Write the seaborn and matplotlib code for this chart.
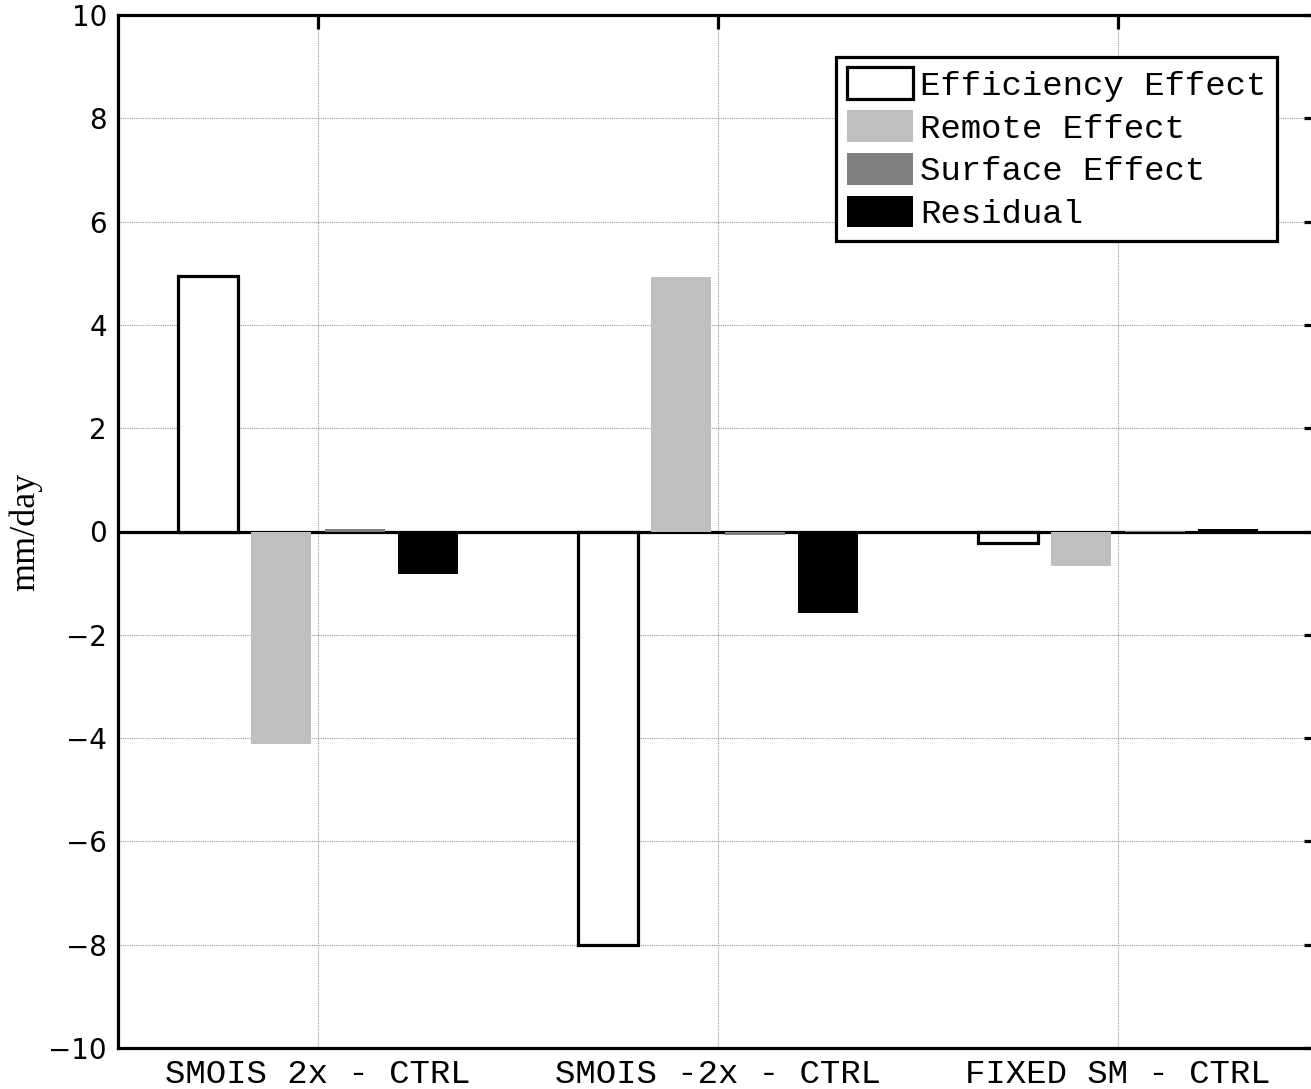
import matplotlib
matplotlib.use("Agg")
import matplotlib.pyplot as plt
from matplotlib.patches import Patch
import seaborn as sns
import pandas as pd

# Precipitation change decomposition (mm/day) for each experiment
cases = ["SMOIS 2x - CTRL", "SMOIS -2x - CTRL", "FIXED SM - CTRL"]
components = ["Efficiency Effect", "Remote Effect", "Surface Effect", "Residual"]
efficiency = [4.95, -8.0, -0.22]
remote = [-4.12, 4.93, -0.66]
surface = [0.05, -0.06, 0.01]
residual = [-0.82, -1.57, 0.04]
yticks = [-10, -8, -6, -4, -2, 0, 2, 4, 6, 8, 10]

colors = ["#ffffff", "#bfbfbf", "#808080", "#000000"]

series = [efficiency, remote, surface, residual]
df = pd.DataFrame(
    [(c, comp, v) for comp, vals in zip(components, series) for c, v in zip(cases, vals)],
    columns=["case", "component", "value"],
)

sns.set_style("white")
plt.rcParams["text.color"] = "black"
plt.rcParams["xtick.color"] = "black"
plt.rcParams["ytick.color"] = "black"
plt.rcParams["axes.labelcolor"] = "black"

fig = plt.figure(figsize=(13.11, 10.89), dpi=100)
ax = fig.add_axes([118 / 1311, 1 - 1048 / 1089, 1200 / 1311, 1033 / 1089])

sns.barplot(
    data=df, x="case", y="value", hue="component", order=cases, hue_order=components,
    palette=colors, width=0.733, gap=0.18, errorbar=None, linewidth=0,
    legend=False, ax=ax, zorder=3,
)

# outlined white bars for the efficiency term
for bar in ax.containers[0]:
    bar.set_edgecolor("black")
    bar.set_linewidth(2.3)

ax.axhline(0, color="black", lw=2.3, zorder=2)

ax.set_xlim(-0.5, 2.5)
ax.set_ylim(-10, 10)
ax.set_yticks(yticks)
ax.set_yticklabels([("\u2212" + str(-t)) if t < 0 else str(t) for t in yticks],
                   fontsize=20, family="DejaVu Sans", color="black")
ax.set_xticks(range(len(cases)))
ax.set_xticklabels(cases, fontsize=24.5, family="Liberation Mono", color="black")
ax.set_xlabel("")
ax.set_ylabel("mm/day", fontsize=26, family="Liberation Serif", color="black")
ax.yaxis.set_label_coords(-76 / 1200, 0.5)

ax.grid(True, color="#999999", ls=(0, (1, 1)), lw=0.8, zorder=0)
ax.set_axisbelow(True)
for s in ax.spines.values():
    s.set_linewidth(2.3)
    s.set_color("black")
ax.tick_params(direction="in", length=10, width=2.3, top=True, right=True, pad=8)

handles = [Patch(facecolor=c, edgecolor=("black" if i == 0 else c), linewidth=(2.3 if i == 0 else 0))
           for i, c in enumerate(colors)]
leg = ax.legend(
    handles, components, loc="upper right",
    bbox_to_anchor=(1277 / 1311, 1 - 57 / 1089), bbox_transform=fig.transFigure,
    borderaxespad=0, prop={"family": "Liberation Mono", "size": 24.5},
    handlelength=1.95, handleheight=1.05, handletextpad=0.22, labelspacing=0.25,
    borderpad=0.3, fancybox=False, framealpha=1, edgecolor="black",
)
leg.get_frame().set_linewidth(2.3)
for t in leg.get_texts():
    t.set_color("black")

fig.savefig("out.png", dpi=100)
